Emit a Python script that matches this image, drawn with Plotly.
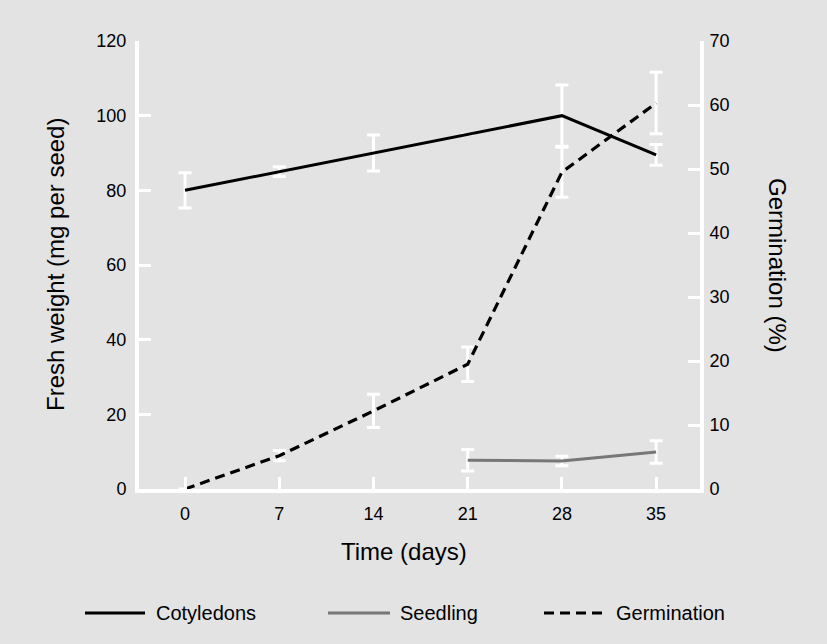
import plotly.graph_objects as go

# ---- data ----
days = [0, 7, 14, 21, 28, 35]
cotyledons = [80, 85, 90, 95, 100, 89.5]
cotyledons_err = [4.7, 1.3, 4.8, None, 8.2, 2.8]

seedling_days = [21, 28, 35]
seedling = [7.7, 7.5, 9.9]
seedling_err = [2.9, 1.3, 3.0]

germination = [0, 5.2, 12.2, 19.5, 49.5, 60.3]
germination_err = [None, 0.8, 2.6, 2.7, 3.9, 4.8]

x_ticks = [0, 7, 14, 21, 28, 35]
left_ticks = [0, 20, 40, 60, 80, 100, 120]
right_ticks = [0, 10, 20, 30, 40, 50, 60, 70]

# ---- layout geometry (pixels) ----
W, H = 827, 644
L, R, T, B = 139, 700, 41, 489
BG = "#e3e3e3"
FONT = "Liberation Sans, Arial, Helvetica, sans-serif"


def px(x):
    return (x - L) / (R - L)


def py(y):
    return (B - y) / (B - T)


def clean(v):
    return [float("nan") if e is None else e for e in v]


fig = go.Figure()

# error bars (white) drawn first so the lines sit above them
err_style = dict(color="white", thickness=3, width=6.5)
fig.add_trace(go.Scatter(x=days, y=cotyledons, mode="markers",
                         marker=dict(size=1, color="rgba(0,0,0,0)"),
                         error_y=dict(type="data", array=clean(cotyledons_err), **err_style),
                         yaxis="y", showlegend=False, hoverinfo="skip"))
fig.add_trace(go.Scatter(x=seedling_days, y=seedling, mode="markers",
                         marker=dict(size=1, color="rgba(0,0,0,0)"),
                         error_y=dict(type="data", array=clean(seedling_err), **err_style),
                         yaxis="y", showlegend=False, hoverinfo="skip"))
fig.add_trace(go.Scatter(x=days, y=germination, mode="markers",
                         marker=dict(size=1, color="rgba(0,0,0,0)"),
                         error_y=dict(type="data", array=clean(germination_err), **err_style),
                         yaxis="y2", showlegend=False, hoverinfo="skip"))

# lines
fig.add_trace(go.Scatter(x=days, y=cotyledons, mode="lines", name="Cotyledons",
                         line=dict(color="black", width=3), yaxis="y", showlegend=False))
fig.add_trace(go.Scatter(x=seedling_days, y=seedling, mode="lines", name="Seedling",
                         line=dict(color="#777777", width=3), yaxis="y", showlegend=False))
fig.add_trace(go.Scatter(x=days, y=germination, mode="lines", name="Germination",
                         line=dict(color="black", width=3.2, dash="10px,6px"),
                         yaxis="y2", showlegend=False))

axis_common = dict(showline=True, linecolor="white", linewidth=4,
                   ticks="inside", tickcolor="white", ticklen=12, tickwidth=3,
                   showgrid=False, zeroline=False,
                   tickfont=dict(family=FONT, size=18, color="black"))

fig.update_layout(
    width=W, height=H,
    margin=dict(l=L, r=W - R, t=T, b=H - B, pad=0),
    paper_bgcolor=BG, plot_bgcolor=BG,
    showlegend=False,
    xaxis=dict(range=[-3.42, 38.26], tickvals=x_ticks, ticklabelstandoff=5, **axis_common),
    yaxis=dict(range=[0, 120], tickvals=left_ticks, ticklabelstandoff=5, **axis_common),
    yaxis2=dict(range=[0, 70], tickvals=right_ticks, overlaying="y", side="right",
                ticklabelstandoff=2, **axis_common),
)

title_font = dict(family=FONT, size=24, color="black")
annotations = [
    dict(text="Fresh weight (mg per seed)", x=px(55), y=py(265), textangle=-90, font=title_font),
    dict(text="Germination (%)", x=px(778), y=py(266), textangle=90, font=title_font),
    dict(text="Time (days)", x=px(404), y=py(551), font=title_font),
]

# custom legend row
legend_items = [
    ("Cotyledons", 85, 145, 154, "black", "solid"),
    ("Seedling", 328, 390, 398, "#777777", "solid"),
    ("Germination", 544, 602, 614, "black", "dash"),
]
LEG_Y = 613
shapes = []
for label, x0, x1, tx, col, dash in legend_items:
    shapes.append(dict(type="line", xref="paper", yref="paper",
                       x0=px(x0), x1=px(x1), y0=py(LEG_Y), y1=py(LEG_Y),
                       line=dict(color=col, width=3, dash="10px,6px" if dash == "dash" else "solid")))
    annotations.append(dict(text=label, x=px(tx), y=py(LEG_Y), xanchor="left",
                            font=dict(family=FONT, size=20, color="black")))

for a in annotations:
    a.setdefault("xref", "paper")
    a.setdefault("yref", "paper")
    a.setdefault("showarrow", False)
    a.setdefault("xanchor", "center")
    a.setdefault("yanchor", "middle")

fig.update_layout(annotations=annotations, shapes=shapes)

fig.write_html("out.html",
               config={"displayModeBar": False},
               post_script="document.body.style.margin='0';document.body.style.background='" + BG + "';")
